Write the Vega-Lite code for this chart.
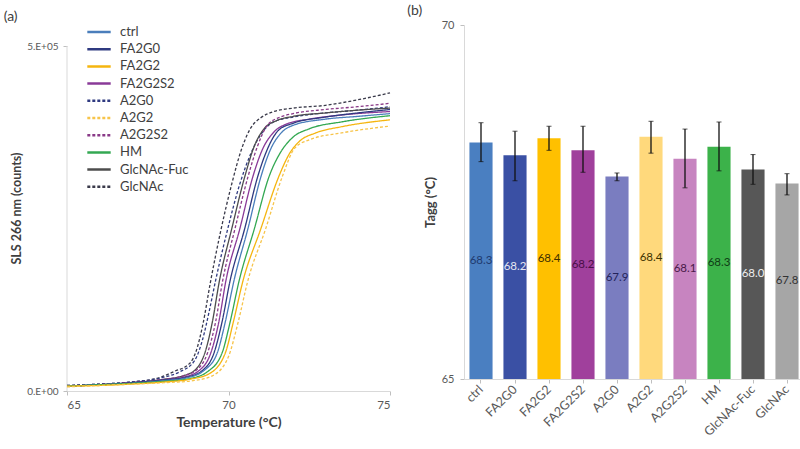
{
  "$schema": "https://vega.github.io/schema/vega-lite/v6.json",
  "padding": {"left": 3, "top": 4, "right": 0, "bottom": 0},
  "background": "white",
  "spacing": 14,
  "config": {
    "font": "Lato",
    "view": {"stroke": null},
    "axis": {"domainColor": "#d9d9d9", "tickColor": "#bfbfbf", "labelColor": "#595959", "titleColor": "#404040", "grid": false, "labelFont": "Lato", "titleFont": "Lato"}
  },
  "datasets": {
    "curves": [
      {"s": "GlcNAc", "t": 65, "v": 8000}, {"s": "GlcNAc", "t": 66, "v": 10000}, {"s": "GlcNAc", "t": 67, "v": 13000}, {"s": "GlcNAc", "t": 67.9, "v": 20000}, {"s": "GlcNAc", "t": 68.3, "v": 28000}, {"s": "GlcNAc", "t": 68.8, "v": 40000}, {"s": "GlcNAc", "t": 69.0, "v": 58000}, {"s": "GlcNAc", "t": 69.2, "v": 95000}, {"s": "GlcNAc", "t": 69.45, "v": 160000}, {"s": "GlcNAc", "t": 69.75, "v": 230000}, {"s": "GlcNAc", "t": 70.1, "v": 300000}, {"s": "GlcNAc", "t": 70.4, "v": 350000}, {"s": "GlcNAc", "t": 70.7, "v": 382000}, {"s": "GlcNAc", "t": 71.0, "v": 396000}, {"s": "GlcNAc", "t": 71.4, "v": 405000}, {"s": "GlcNAc", "t": 72, "v": 410000}, {"s": "GlcNAc", "t": 73, "v": 414000}, {"s": "GlcNAc", "t": 74, "v": 422000}, {"s": "GlcNAc", "t": 75, "v": 432000},
      {"s": "A2G0", "t": 65, "v": 8000}, {"s": "A2G0", "t": 66, "v": 10000}, {"s": "A2G0", "t": 67, "v": 13000}, {"s": "A2G0", "t": 68, "v": 20000}, {"s": "A2G0", "t": 68.5, "v": 28000}, {"s": "A2G0", "t": 68.95, "v": 44000}, {"s": "A2G0", "t": 69.2, "v": 75000}, {"s": "A2G0", "t": 69.4, "v": 115000}, {"s": "A2G0", "t": 69.6, "v": 160000}, {"s": "A2G0", "t": 69.95, "v": 230000}, {"s": "A2G0", "t": 70.35, "v": 300000}, {"s": "A2G0", "t": 70.7, "v": 345000}, {"s": "A2G0", "t": 71.05, "v": 375000}, {"s": "A2G0", "t": 71.4, "v": 390000}, {"s": "A2G0", "t": 72, "v": 397000}, {"s": "A2G0", "t": 73, "v": 403000}, {"s": "A2G0", "t": 74, "v": 407000}, {"s": "A2G0", "t": 75, "v": 412000},
      {"s": "GlcNAc-Fuc", "t": 65, "v": 7000}, {"s": "GlcNAc-Fuc", "t": 66, "v": 9000}, {"s": "GlcNAc-Fuc", "t": 67, "v": 12000}, {"s": "GlcNAc-Fuc", "t": 68, "v": 17000}, {"s": "GlcNAc-Fuc", "t": 68.6, "v": 22000}, {"s": "GlcNAc-Fuc", "t": 69.0, "v": 32000}, {"s": "GlcNAc-Fuc", "t": 69.3, "v": 60000}, {"s": "GlcNAc-Fuc", "t": 69.5, "v": 100000}, {"s": "GlcNAc-Fuc", "t": 69.72, "v": 160000}, {"s": "GlcNAc-Fuc", "t": 70.1, "v": 235000}, {"s": "GlcNAc-Fuc", "t": 70.5, "v": 310000}, {"s": "GlcNAc-Fuc", "t": 70.8, "v": 355000}, {"s": "GlcNAc-Fuc", "t": 71.1, "v": 380000}, {"s": "GlcNAc-Fuc", "t": 71.5, "v": 392000}, {"s": "GlcNAc-Fuc", "t": 72, "v": 398000}, {"s": "GlcNAc-Fuc", "t": 73, "v": 403000}, {"s": "GlcNAc-Fuc", "t": 74, "v": 407000}, {"s": "GlcNAc-Fuc", "t": 75, "v": 410000},
      {"s": "A2G2S2", "t": 65, "v": 7000}, {"s": "A2G2S2", "t": 66, "v": 9000}, {"s": "A2G2S2", "t": 67, "v": 12000}, {"s": "A2G2S2", "t": 68, "v": 17000}, {"s": "A2G2S2", "t": 68.6, "v": 22000}, {"s": "A2G2S2", "t": 69.0, "v": 30000}, {"s": "A2G2S2", "t": 69.35, "v": 55000}, {"s": "A2G2S2", "t": 69.6, "v": 100000}, {"s": "A2G2S2", "t": 69.82, "v": 160000}, {"s": "A2G2S2", "t": 70.2, "v": 235000}, {"s": "A2G2S2", "t": 70.6, "v": 310000}, {"s": "A2G2S2", "t": 70.9, "v": 355000}, {"s": "A2G2S2", "t": 71.2, "v": 385000}, {"s": "A2G2S2", "t": 71.6, "v": 397000}, {"s": "A2G2S2", "t": 72, "v": 402000}, {"s": "A2G2S2", "t": 73, "v": 408000}, {"s": "A2G2S2", "t": 74, "v": 412000}, {"s": "A2G2S2", "t": 75, "v": 417000},
      {"s": "FA2G2S2", "t": 65, "v": 7000}, {"s": "FA2G2S2", "t": 66, "v": 9000}, {"s": "FA2G2S2", "t": 67, "v": 12000}, {"s": "FA2G2S2", "t": 68, "v": 16000}, {"s": "FA2G2S2", "t": 68.6, "v": 20000}, {"s": "FA2G2S2", "t": 69.1, "v": 30000}, {"s": "FA2G2S2", "t": 69.45, "v": 55000}, {"s": "FA2G2S2", "t": 69.7, "v": 100000}, {"s": "FA2G2S2", "t": 69.92, "v": 160000}, {"s": "FA2G2S2", "t": 70.35, "v": 235000}, {"s": "FA2G2S2", "t": 70.75, "v": 310000}, {"s": "FA2G2S2", "t": 71.05, "v": 350000}, {"s": "FA2G2S2", "t": 71.4, "v": 375000}, {"s": "FA2G2S2", "t": 71.8, "v": 387000}, {"s": "FA2G2S2", "t": 72.5, "v": 394000}, {"s": "FA2G2S2", "t": 73.5, "v": 400000}, {"s": "FA2G2S2", "t": 75, "v": 405000},
      {"s": "FA2G0", "t": 65, "v": 7000}, {"s": "FA2G0", "t": 66, "v": 9000}, {"s": "FA2G0", "t": 67, "v": 12000}, {"s": "FA2G0", "t": 68, "v": 16000}, {"s": "FA2G0", "t": 68.7, "v": 20000}, {"s": "FA2G0", "t": 69.2, "v": 30000}, {"s": "FA2G0", "t": 69.55, "v": 55000}, {"s": "FA2G0", "t": 69.8, "v": 100000}, {"s": "FA2G0", "t": 70.05, "v": 160000}, {"s": "FA2G0", "t": 70.5, "v": 235000}, {"s": "FA2G0", "t": 70.9, "v": 310000}, {"s": "FA2G0", "t": 71.2, "v": 350000}, {"s": "FA2G0", "t": 71.55, "v": 378000}, {"s": "FA2G0", "t": 72, "v": 388000}, {"s": "FA2G0", "t": 73, "v": 397000}, {"s": "FA2G0", "t": 74, "v": 403000}, {"s": "FA2G0", "t": 75, "v": 408000},
      {"s": "ctrl", "t": 65, "v": 7000}, {"s": "ctrl", "t": 66, "v": 9000}, {"s": "ctrl", "t": 67, "v": 11000}, {"s": "ctrl", "t": 68, "v": 15000}, {"s": "ctrl", "t": 68.7, "v": 19000}, {"s": "ctrl", "t": 69.25, "v": 30000}, {"s": "ctrl", "t": 69.65, "v": 55000}, {"s": "ctrl", "t": 69.9, "v": 100000}, {"s": "ctrl", "t": 70.17, "v": 160000}, {"s": "ctrl", "t": 70.6, "v": 235000}, {"s": "ctrl", "t": 71.0, "v": 310000}, {"s": "ctrl", "t": 71.3, "v": 350000}, {"s": "ctrl", "t": 71.65, "v": 375000}, {"s": "ctrl", "t": 72, "v": 385000}, {"s": "ctrl", "t": 73, "v": 394000}, {"s": "ctrl", "t": 74, "v": 398000}, {"s": "ctrl", "t": 75, "v": 402000},
      {"s": "HM", "t": 65, "v": 7000}, {"s": "HM", "t": 66, "v": 9000}, {"s": "HM", "t": 67, "v": 11000}, {"s": "HM", "t": 68, "v": 14000}, {"s": "HM", "t": 68.8, "v": 18000}, {"s": "HM", "t": 69.35, "v": 28000}, {"s": "HM", "t": 69.8, "v": 55000}, {"s": "HM", "t": 70.05, "v": 100000}, {"s": "HM", "t": 70.33, "v": 160000}, {"s": "HM", "t": 70.8, "v": 235000}, {"s": "HM", "t": 71.25, "v": 310000}, {"s": "HM", "t": 71.6, "v": 345000}, {"s": "HM", "t": 72, "v": 368000}, {"s": "HM", "t": 72.5, "v": 380000}, {"s": "HM", "t": 73.5, "v": 390000}, {"s": "HM", "t": 75, "v": 399000},
      {"s": "FA2G2", "t": 65, "v": 7000}, {"s": "FA2G2", "t": 66, "v": 8000}, {"s": "FA2G2", "t": 67, "v": 10000}, {"s": "FA2G2", "t": 68, "v": 13000}, {"s": "FA2G2", "t": 68.8, "v": 17000}, {"s": "FA2G2", "t": 69.4, "v": 25000}, {"s": "FA2G2", "t": 69.9, "v": 55000}, {"s": "FA2G2", "t": 70.15, "v": 100000}, {"s": "FA2G2", "t": 70.45, "v": 160000}, {"s": "FA2G2", "t": 71.0, "v": 235000}, {"s": "FA2G2", "t": 71.55, "v": 310000}, {"s": "FA2G2", "t": 71.9, "v": 345000}, {"s": "FA2G2", "t": 72.2, "v": 362000}, {"s": "FA2G2", "t": 72.7, "v": 374000}, {"s": "FA2G2", "t": 73.5, "v": 383000}, {"s": "FA2G2", "t": 75, "v": 393000},
      {"s": "A2G2", "t": 65, "v": 6000}, {"s": "A2G2", "t": 66, "v": 8000}, {"s": "A2G2", "t": 67, "v": 10000}, {"s": "A2G2", "t": 68, "v": 12000}, {"s": "A2G2", "t": 68.9, "v": 15000}, {"s": "A2G2", "t": 69.5, "v": 22000}, {"s": "A2G2", "t": 70.0, "v": 50000}, {"s": "A2G2", "t": 70.3, "v": 100000}, {"s": "A2G2", "t": 70.6, "v": 160000}, {"s": "A2G2", "t": 71.15, "v": 235000}, {"s": "A2G2", "t": 71.66, "v": 310000}, {"s": "A2G2", "t": 72.05, "v": 352000}, {"s": "A2G2", "t": 72.5, "v": 364000}, {"s": "A2G2", "t": 73.5, "v": 374000}, {"s": "A2G2", "t": 75, "v": 384000}
    ],
    "bars": [
      {"cat": "ctrl", "tagg": 68.34, "lo": 68.07, "hi": 68.62},
      {"cat": "FA2G0", "tagg": 68.16, "lo": 67.80, "hi": 68.50},
      {"cat": "FA2G2", "tagg": 68.40, "lo": 68.23, "hi": 68.57},
      {"cat": "FA2G2S2", "tagg": 68.23, "lo": 67.92, "hi": 68.57},
      {"cat": "A2G0", "tagg": 67.86, "lo": 67.80, "hi": 67.91},
      {"cat": "A2G2", "tagg": 68.42, "lo": 68.19, "hi": 68.64},
      {"cat": "A2G2S2", "tagg": 68.11, "lo": 67.70, "hi": 68.53},
      {"cat": "HM", "tagg": 68.28, "lo": 67.94, "hi": 68.63},
      {"cat": "GlcNAc-Fuc", "tagg": 67.96, "lo": 67.75, "hi": 68.17},
      {"cat": "GlcNAc", "tagg": 67.76, "lo": 67.60, "hi": 67.90}
    ]
  },
  "hconcat": [
    {
      "title": {"text": "(a)", "anchor": "start", "frame": "bounds", "offset": 1, "fontSize": 14, "fontWeight": "normal", "color": "#404040", "dx": -7, "font": "Lato"},
      "width": 323,
      "height": 366,
      "layer": [
        {
          "data": {"values": [{}]},
          "mark": {"type": "rule", "color": "#d9d9d9", "strokeWidth": 1},
          "encoding": {
            "x": {"datum": 65, "type": "quantitative", "scale": {"domain": [65, 75], "zero": false, "nice": false}},
            "y": {"datum": 0, "type": "quantitative", "scale": {"domain": [0, 530435], "nice": false}},
            "y2": {"datum": 500000}
          }
        },
        {
          "data": {"name": "curves"},
          "mark": {"type": "line", "strokeWidth": 1.3, "interpolate": "monotone"},
          "encoding": {
            "x": {"field": "t", "type": "quantitative", "scale": {"domain": [65, 75], "zero": false, "nice": false},
              "axis": {"values": [65, 70, 75], "title": "Temperature (°C)", "titleFontSize": 14, "titleFontWeight": "bold", "labelFontSize": 11.5, "tickSize": 4, "labelPadding": 4, "titlePadding": 5}},
            "y": {"field": "v", "type": "quantitative", "scale": {"domain": [0, 530435], "nice": false},
              "axis": {"values": [0, 500000], "domain": false, "title": "SLS 266 nm (counts)", "labelExpr": "datum.value === 0 ? '0.E+00' : '5.E+05'", "titleFontSize": 12.5, "titleFontWeight": "bold", "labelFontSize": 10, "tickSize": 4, "labelPadding": 5, "titlePadding": 3}},
            "color": {"field": "s", "type": "nominal",
              "scale": {"domain": ["ctrl", "FA2G0", "FA2G2", "FA2G2S2", "A2G0", "A2G2", "A2G2S2", "HM", "GlcNAc-Fuc", "GlcNAc"],
                "range": ["#4a7ebb", "#2f3a80", "#f5b50f", "#8a3a98", "#2f3a80", "#f7c44a", "#8a3a88", "#33a852", "#4d4d4d", "#3a3a4a"]},
              "legend": {"title": null, "orient": "none", "legendX": 22, "legendY": -3, "symbolType": "M-1.35,0H1.35", "symbolSize": 300, "symbolStrokeWidth": 2.5, "labelFontSize": 13, "labelColor": "#404040", "rowPadding": 0.2, "labelOffset": 11, "labelFont": "Lato"}},
            "strokeDash": {"field": "s", "type": "nominal",
              "scale": {"domain": ["ctrl", "FA2G0", "FA2G2", "FA2G2S2", "A2G0", "A2G2", "A2G2S2", "HM", "GlcNAc-Fuc", "GlcNAc"],
                "range": [[1, 0], [1, 0], [1, 0], [1, 0], [3, 2], [3, 2], [3, 2], [1, 0], [1, 0], [3, 2]]},
              "legend": {"title": null, "orient": "none", "legendX": 22, "legendY": -3, "symbolType": "M-1.35,0H1.35", "symbolSize": 300, "symbolStrokeWidth": 2.5, "labelFontSize": 13, "labelColor": "#404040", "rowPadding": 0.2, "labelOffset": 11, "labelFont": "Lato"}}
          }
        }
      ]
    },
    {
      "title": {"text": "(b)", "anchor": "start", "frame": "bounds", "offset": 1, "fontSize": 14, "fontWeight": "normal", "color": "#404040", "dx": -17, "font": "Lato"},
      "width": 340,
      "height": 354,
      "data": {"name": "bars"},
      "layer": [
        {
          "mark": {"type": "bar"},
          "encoding": {
            "x": {"field": "cat", "type": "nominal", "sort": null, "scale": {"paddingInner": 0.32, "paddingOuter": 0.16},
              "axis": {"title": null, "labelAngle": -45, "labelAlign": "right", "labelBaseline": "middle", "labelFontSize": 12.5, "tickSize": 4, "labelPadding": 4}},
            "y": {"field": "tagg", "type": "quantitative", "scale": {"domain": [65, 70], "zero": false},
              "axis": {"values": [65, 70], "title": "Tagg (°C)", "titleFontSize": 13, "titleFontWeight": "bold", "labelFontSize": 11, "tickSize": 4, "labelPadding": 6, "titlePadding": 4}},
            "y2": {"datum": 65},
            "color": {"field": "cat", "type": "nominal",
              "scale": {"domain": ["ctrl", "FA2G0", "FA2G2", "FA2G2S2", "A2G0", "A2G2", "A2G2S2", "HM", "GlcNAc-Fuc", "GlcNAc"],
                "range": ["#4a7fc1", "#3a50a4", "#ffc000", "#a0409c", "#7a7dc0", "#ffd97c", "#c784c0", "#3cb24a", "#575757", "#a6a6a6"]},
              "legend": null}
          }
        },
        {
          "mark": {"type": "errorbar", "ticks": {"size": 5, "color": "#111111"}, "rule": {"color": "#111111", "strokeWidth": 1.3}},
          "encoding": {
            "x": {"field": "cat", "type": "nominal", "sort": null},
            "y": {"field": "lo", "type": "quantitative", "scale": {"domain": [65, 70], "zero": false}, "axis": null},
            "y2": {"field": "hi"}
          }
        },
        {
          "mark": {"type": "text", "fontSize": 11.5, "font": "Lato"},
          "encoding": {
            "x": {"field": "cat", "type": "nominal", "sort": null},
            "y": {"field": "tagg", "type": "quantitative", "scale": {"domain": [65, 75], "zero": false}, "axis": null},
            "text": {"field": "tagg", "type": "quantitative", "format": ".1f"},
            "color": {"field": "cat", "type": "nominal",
              "scale": {"domain": ["ctrl", "FA2G0", "FA2G2", "FA2G2S2", "A2G0", "A2G2", "A2G2S2", "HM", "GlcNAc-Fuc", "GlcNAc"],
                "range": ["#1f3a6e", "#e4e6f2", "#3d2f00", "#4a0f48", "#23235a", "#3d3300", "#4a1a48", "#0f3d15", "#eeeeee", "#333333"]},
              "legend": null}
          }
        }
      ],
      "resolve": {"scale": {"y": "independent", "color": "independent"}}
    }
  ]
}
